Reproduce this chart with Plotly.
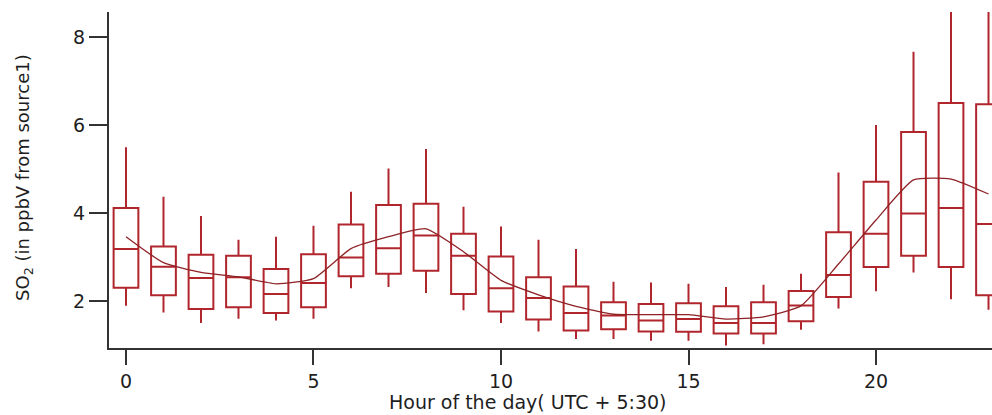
import plotly.graph_objects as go

# Diurnal SO2 statistics per hour of the day (ppbV)
hours = list(range(24))
lower_whisker = [1.90, 1.75, 1.51, 1.61, 1.57, 1.61, 2.30, 2.33, 2.19, 1.80, 1.51, 1.32,
                 1.15, 1.15, 1.11, 1.11, 1.00, 1.03, 1.36, 1.84, 2.23, 2.66, 2.05, 1.81]
q1 = [2.31, 2.14, 1.83, 1.87, 1.74, 1.87, 2.57, 2.63, 2.70, 2.17, 1.77, 1.59,
      1.34, 1.37, 1.32, 1.31, 1.27, 1.27, 1.55, 2.10, 2.78, 3.04, 2.78, 2.14]
median = [3.19, 2.79, 2.53, 2.55, 2.17, 2.42, 3.00, 3.21, 3.50, 3.04, 2.30, 2.08,
          1.74, 1.68, 1.57, 1.60, 1.51, 1.51, 1.91, 2.60, 3.54, 4.00, 4.12, 3.76]
q3 = [4.12, 3.25, 3.06, 3.04, 2.74, 3.07, 3.75, 4.19, 4.22, 3.54, 3.02, 2.55,
      2.34, 1.98, 1.94, 1.96, 1.89, 1.98, 2.24, 3.57, 4.72, 5.85, 6.51, 6.48]
upper_whisker = [5.50, 4.38, 3.94, 3.40, 3.47, 3.72, 4.49, 5.02, 5.46, 4.15, 3.70, 3.40,
                 3.19, 2.45, 2.43, 2.40, 2.33, 2.38, 2.63, 4.93, 6.01, 7.67, 9.30, 9.20]
mean = [3.47, 2.88, 2.66, 2.56, 2.40, 2.52, 3.20, 3.47, 3.65, 3.13, 2.48, 2.15,
        1.89, 1.71, 1.70, 1.70, 1.60, 1.65, 1.90, 2.85, 3.85, 4.76, 4.78, 4.44]

x_ticks = [0, 5, 10, 15, 20]
y_ticks = [2, 4, 6, 8]

BOX_RED = "#b0262c"
MEAN_RED = "#8e2226"
AXIS = "#333333"
TEXT = "#1e1e1e"
FONT = "DejaVu Sans"

fig = go.Figure()

fig.add_trace(go.Box(
    x=hours,
    q1=q1,
    median=median,
    q3=q3,
    lowerfence=lower_whisker,
    upperfence=upper_whisker,
    width=0.66,
    whiskerwidth=0,
    boxpoints=False,
    fillcolor="white",
    line=dict(color=BOX_RED, width=2),
    showlegend=False,
))

# hourly mean, lightly smoothed
fig.add_trace(go.Scatter(
    x=hours,
    y=mean,
    mode="lines",
    line=dict(color=MEAN_RED, width=1.3, shape="spline", smoothing=0.5),
    showlegend=False,
))

fig.update_layout(
    width=992,
    height=415,
    margin=dict(l=109, r=0, t=12, b=67),
    paper_bgcolor="white",
    plot_bgcolor="white",
    font=dict(family=FONT, size=19, color=TEXT),
    xaxis=dict(
        range=[-0.453, 23.093],
        tickvals=x_ticks,
        ticktext=[str(v) for v in x_ticks],
        ticks="outside",
        ticklen=15,
        tickwidth=2,
        tickcolor=AXIS,
        showline=True,
        linecolor=AXIS,
        linewidth=2,
        showgrid=False,
        zeroline=False,
        tickfont=dict(family=FONT, size=19, color=TEXT),
    ),
    yaxis=dict(
        range=[0.943, 8.574],
        tickvals=y_ticks,
        ticktext=[str(v) for v in y_ticks],
        ticks="outside",
        ticklen=18,
        tickwidth=2,
        tickcolor=AXIS,
        showline=True,
        linecolor=AXIS,
        linewidth=2,
        showgrid=False,
        zeroline=False,
        tickfont=dict(family=FONT, size=19, color=TEXT),
    ),
    annotations=[
        dict(
            text="Hour of the day( UTC + 5:30)",
            xref="paper", yref="paper",
            x=0.475, y=-0.161,
            xanchor="center", yanchor="middle",
            showarrow=False,
            font=dict(family=FONT, size=19, color=TEXT),
        ),
        dict(
            text="SO<sub>2</sub> (in ppbV from source1)",
            xref="paper", yref="paper",
            x=-0.0963, y=0.509,
            xanchor="center", yanchor="middle",
            textangle=-90,
            showarrow=False,
            font=dict(family=FONT, size=18, color=TEXT),
        ),
    ],
)

fig.write_html("out.html")
